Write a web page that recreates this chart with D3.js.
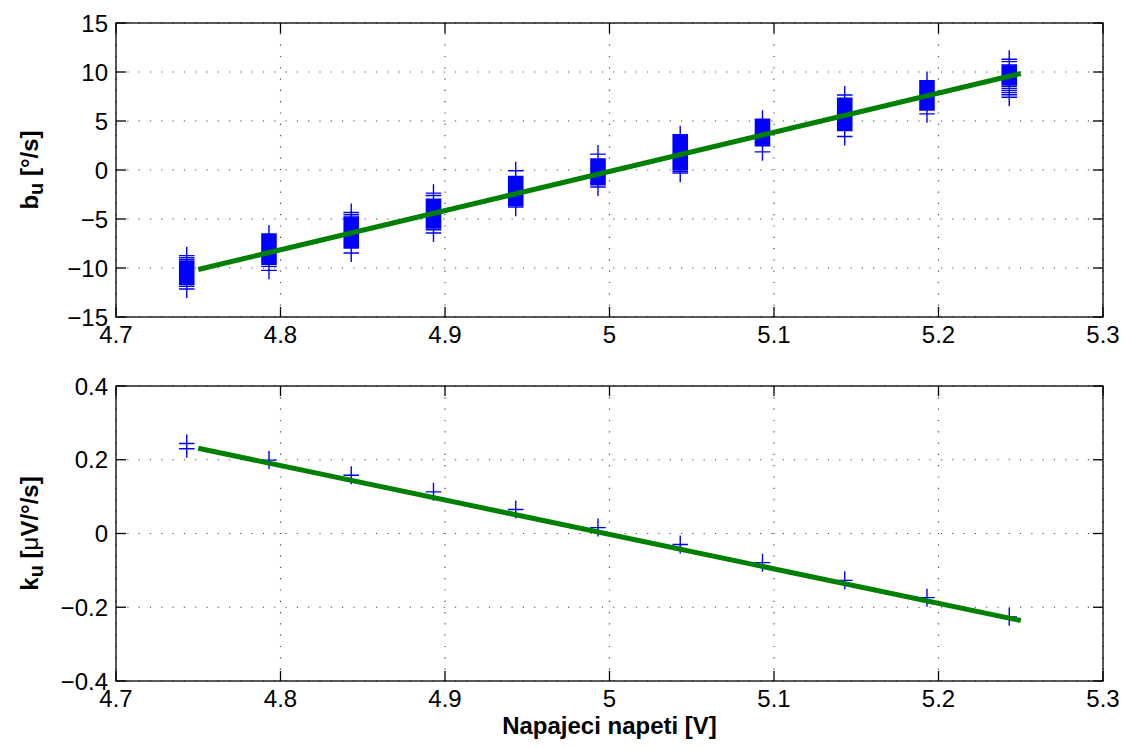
<!DOCTYPE html>
<html>
<head>
<meta charset="utf-8">
<script src="https://cdn.jsdelivr.net/npm/d3@7"></script>
<style>
  html, body { margin: 0; padding: 0; background: #fff; }
  svg { display: block; }
  text { font-family: "Liberation Sans", Arial, Helvetica, sans-serif; fill: #000; }
</style>
</head>
<body>
<svg id="chart" width="1125" height="747"></svg>
<script>
// ---------------- DATA ----------------
const voltages = [4.743, 4.793, 4.843, 4.893, 4.943, 4.993, 5.043, 5.093, 5.143, 5.193, 5.243];

// b_u measurements for each supply voltage [°/s]
const buValues = [
  [-8.74, -8.95, -9.15, -9.3, -9.42, -9.55, -9.66, -9.8, -9.93, -10.05, -10.18, -10.3, -10.41, -10.55, -10.68, -10.8, -10.93, -11.05, -11.17, -11.3, -11.42, -11.55, -11.68, -11.87, -12.14],
  [-6.53, -6.66, -6.8, -6.92, -7.05, -7.18, -7.3, -7.44, -7.57, -7.7, -7.82, -7.95, -8.08, -8.2, -8.34, -8.47, -8.6, -8.72, -8.85, -8.98, -9.1, -9.24, -9.37, -9.5, -9.63, -9.83, -10.24],
  [-4.33, -4.57, -4.8, -4.92, -5.05, -5.18, -5.3, -5.43, -5.56, -5.68, -5.81, -5.94, -6.06, -6.19, -6.32, -6.44, -6.57, -6.7, -6.82, -6.95, -7.08, -7.2, -7.33, -7.46, -7.58, -7.71, -7.84, -7.96, -8.47],
  [-2.36, -2.6, -2.97, -3.1, -3.22, -3.35, -3.48, -3.6, -3.73, -3.86, -4.0, -4.12, -4.25, -4.38, -4.5, -4.63, -4.76, -4.9, -5.02, -5.15, -5.28, -5.4, -5.53, -5.66, -5.8, -5.92, -6.09, -6.43],
  [-0.08, -0.66, -0.8, -0.92, -1.05, -1.18, -1.3, -1.44, -1.57, -1.7, -1.83, -1.96, -2.08, -2.2, -2.34, -2.47, -2.6, -2.73, -2.86, -2.98, -3.1, -3.24, -3.37, -3.5, -3.62, -3.79],
  [1.62, 1.14, 1.0, 0.88, 0.75, 0.62, 0.5, 0.36, 0.23, 0.1, -0.02, -0.15, -0.28, -0.4, -0.54, -0.67, -0.8, -0.92, -1.05, -1.18, -1.3, -1.42, -1.5, -1.74],
  [3.59, 3.45, 3.32, 3.2, 3.06, 2.93, 2.8, 2.67, 2.55, 2.42, 2.28, 2.15, 2.02, 1.9, 1.77, 1.64, 1.5, 1.38, 1.25, 1.12, 1.0, 0.86, 0.73, 0.6, 0.47, 0.34, 0.21, 0.08, 0.02, -0.15, -0.32],
  [5.18, 5.05, 4.92, 4.8, 4.67, 4.54, 4.41, 4.28, 4.15, 4.02, 3.9, 3.77, 3.64, 3.5, 3.38, 3.25, 3.12, 3.0, 2.86, 2.73, 2.6, 2.47, 1.85],
  [7.66, 7.32, 7.2, 7.06, 6.93, 6.8, 6.68, 6.55, 6.42, 6.3, 6.16, 6.03, 5.9, 5.77, 5.65, 5.52, 5.4, 5.26, 5.13, 5.0, 4.88, 4.75, 4.62, 4.5, 4.36, 4.23, 4.1, 4.03, 3.42],
  [9.12, 8.98, 8.85, 8.72, 8.6, 8.47, 8.34, 8.2, 8.08, 7.95, 7.82, 7.7, 7.57, 7.44, 7.3, 7.18, 7.05, 6.92, 6.8, 6.67, 6.54, 6.4, 6.27, 6.13, 5.73],
  [11.3, 11.06, 10.72, 10.6, 10.47, 10.34, 10.2, 10.08, 9.95, 9.82, 9.7, 9.56, 9.43, 9.3, 9.18, 9.05, 8.92, 8.8, 8.66, 8.51, 8.3, 8.1, 7.9, 7.68, 7.43]
];

// k_u values for each supply voltage [µV/°/s]
const kuValues = [
  [0.244, 0.230], [0.199], [0.158], [0.113], [0.065], [0.016], [-0.030], [-0.079], [-0.127], [-0.174], [-0.226]
];

// linear fits
const fitX = [4.75, 5.25];
const fitBu = [-10.15, 9.85];
const fitKu = [0.231, -0.236];

// axes
const xTicks = [4.7, 4.8, 4.9, 5.0, 5.1, 5.2, 5.3];
const xTickLabels = ["4.7", "4.8", "4.9", "5", "5.1", "5.2", "5.3"];
const buTicks = [-15, -10, -5, 0, 5, 10, 15];
const buTickLabels = ["\u221215", "\u221210", "\u22125", "0", "5", "10", "15"];
const kuTicks = [-0.4, -0.2, 0, 0.2, 0.4];
const kuTickLabels = ["\u22120.4", "\u22120.2", "0", "0.2", "0.4"];
const xLabel = "Napajeci napeti [V]";

// ---------------- DRAWING ----------------
const svg = d3.select("#chart");
svg.append("rect").attr("width", 1125).attr("height", 747).attr("fill", "#fff");

const L = 116, R = 1103;
const x = d3.scaleLinear().domain([4.7, 5.3]).range([L, R]);

const panels = [
  { top: 23, bottom: 317, domain: [-15, 15], ticks: buTicks, labels: buTickLabels },
  { top: 386, bottom: 681, domain: [-0.4, 0.4], ticks: kuTicks, labels: kuTickLabels }
];
panels.forEach(p => { p.y = d3.scaleLinear().domain(p.domain).range([p.bottom, p.top]); });

const fontSize = 24;
const tickLen = 10;

function drawFrame(p) {
  const g = svg.append("g");
  const grid = g.append("g").attr("stroke", "#444").attr("stroke-width", 1.2)
    .attr("stroke-dasharray", "1.2,10.1").attr("fill", "none");
  xTicks.forEach(t => {
    grid.append("line").attr("x1", x(t)).attr("x2", x(t)).attr("y1", p.bottom).attr("y2", p.top);
  });
  p.ticks.forEach(t => {
    grid.append("line").attr("x1", L).attr("x2", R).attr("y1", p.y(t)).attr("y2", p.y(t));
  });
  return g;
}

function drawAxes(p) {
  const g = svg.append("g");
  const ax = g.append("g").attr("stroke", "#000").attr("stroke-width", 1.3).attr("fill", "none");
  ax.append("rect").attr("x", L).attr("y", p.top).attr("width", R - L).attr("height", p.bottom - p.top);
  xTicks.forEach(t => {
    ax.append("line").attr("x1", x(t)).attr("x2", x(t)).attr("y1", p.bottom).attr("y2", p.bottom - tickLen);
    ax.append("line").attr("x1", x(t)).attr("x2", x(t)).attr("y1", p.top).attr("y2", p.top + tickLen);
  });
  p.ticks.forEach(t => {
    ax.append("line").attr("x1", L).attr("x2", L + tickLen).attr("y1", p.y(t)).attr("y2", p.y(t));
    ax.append("line").attr("x1", R).attr("x2", R - tickLen).attr("y1", p.y(t)).attr("y2", p.y(t));
  });
  xTicks.forEach((t, i) => {
    g.append("text").attr("x", x(t)).attr("y", p.bottom + 26)
      .attr("text-anchor", "middle").attr("font-size", fontSize).text(xTickLabels[i]);
  });
  p.ticks.forEach((t, i) => {
    g.append("text").attr("x", L - 8).attr("y", p.y(t)).attr("dy", "0.36em")
      .attr("text-anchor", "end").attr("font-size", fontSize).text(p.labels[i]);
  });
}

function plusMarkers(g, pts, p) {
  const hw = 7.8, hh = 9;
  const path = d3.path();
  pts.forEach(([vx, vy]) => {
    const cx = x(vx), cy = p.y(vy);
    path.moveTo(cx - hw, cy); path.lineTo(cx + hw, cy);
    path.moveTo(cx, cy - hh); path.lineTo(cx, cy + hh);
  });
  g.append("path").attr("d", path.toString()).attr("stroke", "#0000ff")
    .attr("stroke-width", 1.4).attr("fill", "none");
}

function fitLine(g, ys, p) {
  const line = d3.line().x(d => x(d[0])).y(d => p.y(d[1]));
  g.append("path").attr("d", line(fitX.map((v, i) => [v, ys[i]])))
    .attr("stroke", "#008000").attr("stroke-width", 5).attr("fill", "none");
}

// top panel
const g1 = drawFrame(panels[0]);
const buPts = [];
voltages.forEach((v, i) => buValues[i].forEach(b => buPts.push([v, b])));
plusMarkers(g1, buPts, panels[0]);
fitLine(g1, fitBu, panels[0]);
drawAxes(panels[0]);

// bottom panel
const g2 = drawFrame(panels[1]);
const kuPts = [];
voltages.forEach((v, i) => kuValues[i].forEach(k => kuPts.push([v, k])));
plusMarkers(g2, kuPts, panels[1]);
fitLine(g2, fitKu, panels[1]);
drawAxes(panels[1]);

// y labels
function yLabel(cy, main, sub, rest) {
  const t = svg.append("text")
    .attr("transform", `translate(38,${cy}) rotate(-90)`)
    .attr("text-anchor", "middle").attr("font-size", fontSize).attr("font-weight", "bold");
  t.append("tspan").text(main);
  t.append("tspan").attr("font-size", 20).attr("dy", 5).text(sub);
  const r = t.append("tspan").attr("dy", -5);
  rest.forEach(part => {
    r.append("tspan").attr("font-weight", part.w || "bold").text(part.s);
  });
}
yLabel((panels[0].top + panels[0].bottom) / 2, "b", "u", [{ s: " [°/s]" }]);
yLabel((panels[1].top + panels[1].bottom) / 2, "k", "u", [{ s: " [" }, { s: "\u03bc", w: "normal" }, { s: "V/°/s]" }]);

// x label
svg.append("text").attr("x", (L + R) / 2).attr("y", 734)
  .attr("text-anchor", "middle").attr("font-size", fontSize).attr("font-weight", "bold")
  .text(xLabel);
</script>
</body>
</html>
